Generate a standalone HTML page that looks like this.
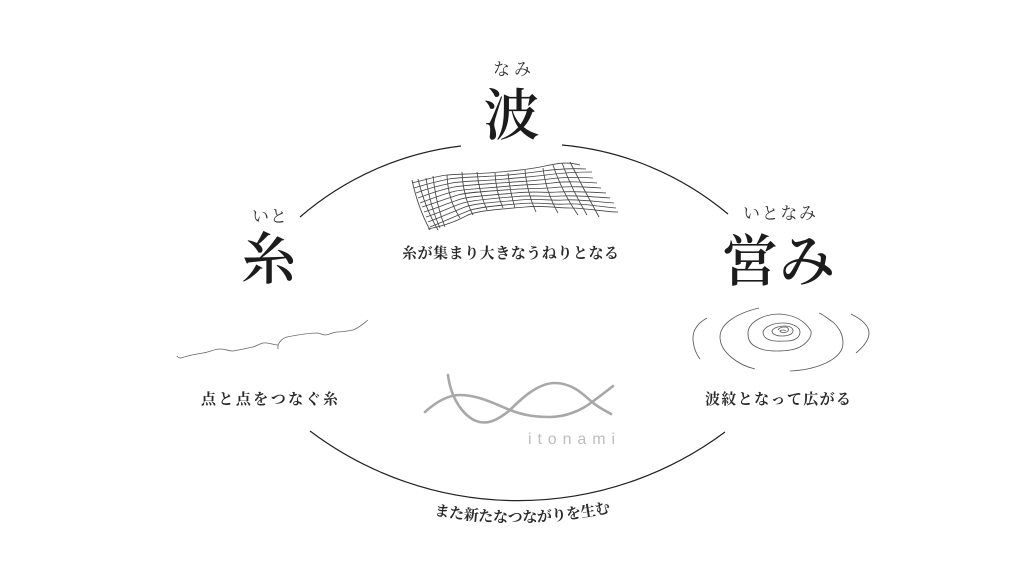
<!DOCTYPE html>
<html lang="ja">
<head>
<meta charset="utf-8">
<style>
html,body{margin:0;padding:0;background:#fff;width:1024px;height:576px;overflow:hidden}
svg{display:block}
text{font-family:"Liberation Serif","Noto Serif CJK JP","Noto Serif CJK SC",serif;fill:#1c1c1c}
.big{font-size:56px;font-weight:600}
.lab{font-size:15px;font-weight:700;fill:#2a2a2a}
.fur{font-size:17px;font-weight:400;fill:#333}
</style>
</head>
<body>
<svg xmlns="http://www.w3.org/2000/svg" width="1024" height="576" viewBox="0 0 1024 576">
<rect width="1024" height="576" fill="#fff"/>

<!-- main arcs -->
<g fill="none" stroke="#222" stroke-width="1.2">
<path d="M300 217 A300 300 0 0 1 461 146"/>
<path d="M562 145 A300 300 0 0 1 728 214"/>
<path d="M310 431 A346 346 0 0 0 725 432"/>
</g>

<!-- kanji -->
<text class="big" x="511.5" y="135" text-anchor="middle">波</text>
<text class="big" x="269" y="279" text-anchor="middle">糸</text>
<text class="big" x="722" y="281" textLength="113" lengthAdjust="spacing">営み</text>

<!-- furigana -->
<text class="fur" x="493" y="75" textLength="38" lengthAdjust="spacing">なみ</text>
<text class="fur" x="252" y="222" textLength="35" lengthAdjust="spacing">いと</text>
<text class="fur" x="743" y="219" textLength="73" lengthAdjust="spacing">いとなみ</text>

<!-- labels -->
<text class="lab" x="402" y="258" textLength="217" lengthAdjust="spacing">糸が集まり大きなうねりとなる</text>
<text class="lab" x="201" y="404" textLength="137" lengthAdjust="spacing">点と点をつなぐ糸</text>
<text class="lab" x="705" y="404" textLength="146" lengthAdjust="spacing">波紋となって広がる</text>

<!-- curved label -->
<path id="cv" d="M434 515 Q522 531 612 512" fill="none"/>
<text class="lab"><textPath href="#cv" startOffset="0" textLength="178" lengthAdjust="spacing">また新たなつながりを生む</textPath></text>

<!-- net: rows -->
<g fill="none" stroke="#444" stroke-width="0.85">
<path d="M412 183 C425 180 437 176 447 175 S480 174 500 172 S525 170 540 167 S565 161 580 165"/>
<path d="M414 188 C427 184 439 181 449 179 S482 177 502 175.5 S528 173 543 171 S570 168 586 169"/>
<path d="M416 193 C429 188 442 185 452 183 S485 181 505 179 S531 177 546 175 S574 172 592 172"/>
<path d="M418 198 C431 193 444 189 454 187 S487 184 507 182.5 S534 181 549 179 S578 177 593 178"/>
<path d="M420 203 C433 198 446 193 456 191 S490 188 510 186 S537 185 552 183 S582 182 597 183"/>
<path d="M422 207 C435 203 448 198 458 195 S492 191 512 189.5 S540 189 555 187.5 S586 187 601 188"/>
<path d="M424 212 C437 208 451 202 461 199 S495 195 515 193 S543 193 558 192 S590 192 606 193"/>
<path d="M426 217 C439 213 453 206 463 203 S497 198 517 196.5 S546 197 561 196 S594 197 610 198"/>
<path d="M428 222 C441 217 455 211 465 207 S500 202 520 200 S549 201 564 200 S598 202 614 203"/>
<path d="M430 227 C443 222 458 215 468 211 S502 205 522 203.5 S552 205 567 204 S602 207 616 208"/>
<path d="M428 229 C443 226 455 222 466 216 S505 209 525 207 S555 208 570 208 S606 212 618 212"/>
<!-- columns -->
<path d="M412 180 Q418 208 430 230"/>
<path d="M418 179 Q425 208 438 230"/>
<path d="M426 178 Q430 206 440 228"/>
<path d="M433 176 Q436 204 445 227"/>
<path d="M447 175 Q448 200 460 218"/>
<path d="M462 172 Q463 196 473 215"/>
<path d="M477 172 Q479 192 487 210"/>
<path d="M495 173 Q496 192 503 208"/>
<path d="M508 173 Q510 192 515 208"/>
<path d="M525 170 Q527 192 536 212"/>
<path d="M543 168 Q546 192 558 213"/>
<path d="M553 165 Q562 192 578 215"/>
<path d="M562 163 Q572 190 587 215"/>
<path d="M570 162 Q584 190 599 217"/>
</g>

<!-- thread -->
<g fill="none" stroke="#666" stroke-width="0.8">
<path d="M177 356 Q178 358 181 358 C190 355 196 354 203 353 C210 352 214 349 220 349 C226 349 228 351 233 351 C240 350 247 348 253 347 C257 346 259 344 263 343 C268 342 273 345 278 345 L278 349"/>
<path d="M278 345 C280 341 283 338 287 337 C297 335 307 333 317 333 C320 333 322 335 325 335 C329 335 333 332 337 332 C343 332 348 331 353 330 C359 328 363 324 368 320"/>
</g>

<!-- ripples -->
<g fill="none" stroke="#5a5a5a" stroke-width="0.85">
<path d="M707 318 C698 323 693 330 693 338 C693 346 696 354 700 359"/>
<path d="M851 314 C861 319 869 325 869 333 C869 341 862 348 856 353"/>
<path d="M759 308 C738 313 720 323 720 337 C720 352 738 365 755 369"/>
<path d="M790 371 C815 370 843 360 843 343 C843 333 838 327 833 322 C828 319 824 315 819 313"/>
<path d="M780 314 C762 314 748 323 748 333 C748 340 750 343 753 345 C760 350 768 351 777 351 C785 351 794 350 800 347 C807 343 812 337 811 331 C805 321 795 315 780 314 Z"/>
<path d="M770 340 C764 338 763 335 763 332 C765 326 774 323 783 323 C792 323 800 327 800 332 C800 337 795 341 787 341 C780 341 775 342 770 340 Z"/>
<path d="M772 331 C773 328 779 326 784 326 C790 326 793 328 793 331 C793 334 788 336 782 336 C776 336 772 334 772 331 Z"/>
<path d="M778 330 C779 328 782 327 785 327 C788 327 789 329 788 331 C786 333 783 333 781 332 C779 331 780 330 783 330 C785 330 786 331 785 331"/>
</g>

<!-- logo -->
<g fill="none" stroke="#a8a8a8" stroke-width="2.6" stroke-linecap="round">
<path d="M448 375 C450 392 458 410 472 419 C486 427 498 420 510 410 C522 398 538 383 555 383 C572 383 583 394 592 402 C599 408 606 411 611 414"/>
<path d="M425 412 C436 402 448 395 460 395 C478 395 495 404 510 410 C525 416 538 417 550 417 C566 417 582 410 592 402 C600 396 607 391 613 386"/>
</g>
<text x="528" y="444" textLength="87" lengthAdjust="spacing" style="font-family:'Liberation Sans',sans-serif;font-size:16px;fill:#bdbdbd;font-weight:400">itonami</text>
</svg>
</body>
</html>
